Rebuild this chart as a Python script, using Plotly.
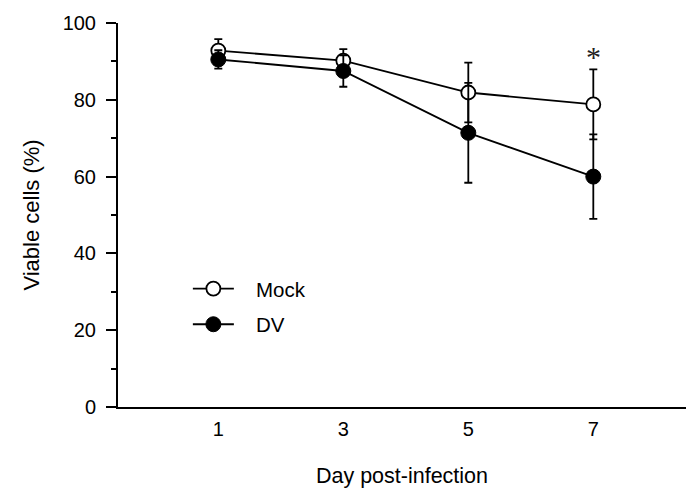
import plotly.graph_objects as go

# Cell viability over the course of infection (mean ± SD)
days = [1, 3, 5, 7]
day_labels = ["1", "3", "5", "7"]

mock_viable = [92.8, 90.2, 81.9, 78.8]
mock_sd = [3.0, 3.0, 7.8, 9.1]

dv_viable = [90.5, 87.5, 71.4, 60.0]
dv_sd = [2.4, 4.1, 13.0, 11.0]

y_ticks = [0, 20, 40, 60, 80, 100]

FONT = "Liberation Sans, Arial, sans-serif"

fig = go.Figure()

fig.add_trace(go.Scatter(
    x=days, y=mock_viable, name="\u00a0\u00a0\u00a0Mock", mode="lines+markers",
    line=dict(color="black", width=1.8),
    marker=dict(symbol="circle", size=14, color="white",
                line=dict(color="black", width=1.8)),
    error_y=dict(type="data", array=mock_sd, visible=True,
                 color="black", thickness=1.8, width=4),
    legendgroup="a",
))

fig.add_trace(go.Scatter(
    x=days, y=dv_viable, name="\u00a0\u00a0\u00a0DV", mode="lines+markers",
    line=dict(color="black", width=1.8),
    marker=dict(symbol="circle", size=15, color="black",
                line=dict(color="black", width=1)),
    error_y=dict(type="data", array=dv_sd, visible=True,
                 color="black", thickness=1.8, width=4),
    legendgroup="b",
))

# significance mark over day 7
fig.add_annotation(
    x=days[3], y=91.3, text="*", showarrow=False,
    font=dict(family="Liberation Serif, Times New Roman, serif", size=30, color="#222"),
    xanchor="center", yanchor="middle",
)

fig.update_layout(
    width=686, height=491,
    margin=dict(l=118, r=0, t=23, b=84, pad=0),
    paper_bgcolor="white", plot_bgcolor="white",
    font=dict(family=FONT, size=20, color="black"),
    showlegend=True,
    legend=dict(
        x=0.123, y=0.36, xanchor="left", yanchor="top",
        bgcolor="rgba(0,0,0,0)", borderwidth=0,
        itemwidth=41, tracegroupgap=6,
        font=dict(family=FONT, size=20.5, color="black"),
    ),
    xaxis=dict(
        range=[-0.605, 8.483],
        tickmode="array", tickvals=days, ticktext=day_labels,
        showline=True, linecolor="black", linewidth=2,
        ticks="outside", ticklen=3, tickcolor="rgba(0,0,0,0)",
        showgrid=False, zeroline=False,
        title=dict(text="Day post-infection", font=dict(size=21.5), standoff=29),
        tickfont=dict(size=20),
    ),
    yaxis=dict(
        range=[0, 100],
        tickmode="array", tickvals=y_ticks,
        showline=True, linecolor="black", linewidth=2,
        ticks="outside", ticklen=10, tickwidth=2, tickcolor="black",
        ticklabelstandoff=6,
        minor=dict(dtick=10, tick0=0, ticks="outside", ticklen=5,
                   tickwidth=2, tickcolor="black", showgrid=False),
        showgrid=False, zeroline=False,
        title=dict(text="Viable cells (%)", font=dict(size=22), standoff=17),
        tickfont=dict(size=20),
    ),
)

fig.write_html("out.html")
